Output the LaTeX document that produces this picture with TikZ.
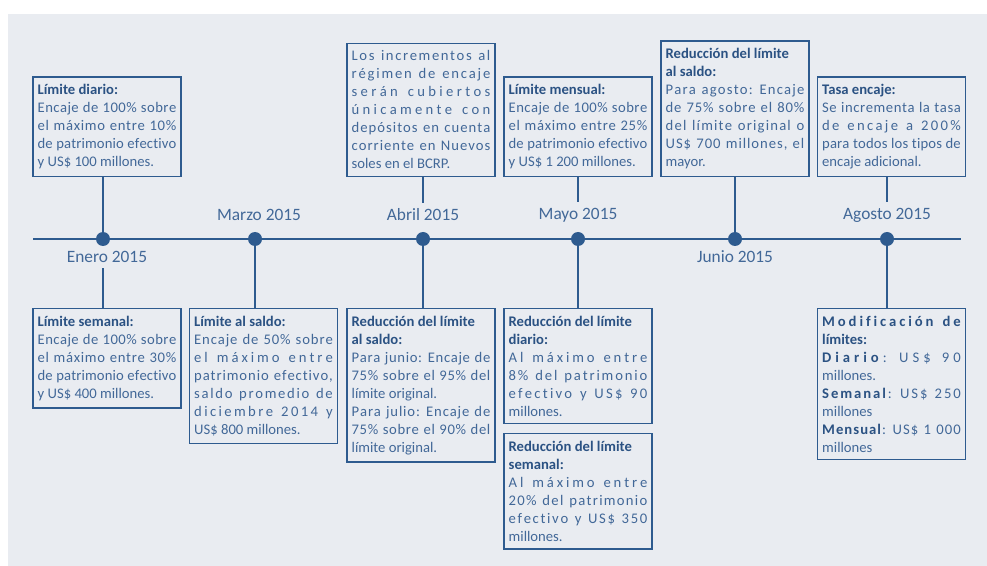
\documentclass[tikz,border=0pt]{standalone}
\usepackage{fontspec}
\setmainfont{Carlito}
\usetikzlibrary{backgrounds,positioning}

\definecolor{lineblue}{RGB}{46,91,143}
\definecolor{headblue}{RGB}{43,82,131}
\definecolor{textblue}{RGB}{66,104,152}
\definecolor{panel}{RGB}{233,236,241}

\setlength{\parindent}{0pt}
\hbadness=10000

\newcommand{\boxhead}[1]{{\bfseries\color{headblue}#1}}

% lineas espaciadas letra a letra hasta el ancho del cuadro
\ExplSyntaxOn
\seq_new:N \l__ls_words_seq
\cs_new_protected:Npn \__ls_spread:n #1
  {
    \seq_set_split:Nnn \l__ls_words_seq { ~ } { #1 }
    \seq_map_indexed_inline:Nn \l__ls_words_seq
      {
        \int_compare:nNnT { ##1 } > { 1 } { \c_space_tl \hfil }
        \tl_map_inline:nn { ##2 } { ####1 \hfil }
      }
  }
\NewDocumentCommand \ls { m }
  { \mode_leave_vertical: \hbox_to_wd:nn { \hsize } { \__ls_spread:n { #1 } \unskip } }
\NewDocumentCommand \lsb { m m }
  {
    \mode_leave_vertical:
    \hbox_to_wd:nn { \hsize }
      { { \bfseries \color { headblue } \__ls_spread:n { #1 } } \__ls_spread:n { #2 } \unskip }
  }
\ExplSyntaxOff

\begin{document}
\begin{tikzpicture}
	[x=0.75pt,y=-0.75pt,
	 dot/.style={circle,fill=lineblue,minimum size=10.5pt,inner sep=0pt},
	 month/.style={font=\fontsize{13}{15}\selectfont,text=textblue,inner sep=4pt},
	 box/.style={draw=lineblue,line width=0.9pt,text width=104pt,align=justify,inner xsep=3.5pt,inner ysep=5.5pt,text=textblue,
		font=\fontsize{11}{13.5}\selectfont},
	 link/.style={draw=lineblue,line width=1.1pt}]

	\useasboundingbox (0,0) rectangle (987,566);

	% fechas sobre la linea de tiempo
	\node[dot] (p0) at (103,239) {};
	\node[dot] (p1) at (255,239) {};
	\node[dot] (p2) at (423,239) {};
	\node[dot] (p3) at (578,239) {};
	\node[dot] (p4) at (735,239) {};
	\node[dot] (p5) at (887,239) {};

	\node[month] (m0) at (107,257) {Enero 2015};
	\node[month] (m1) at (259,215) {Marzo 2015};
	\node[month] (m2) at (423,215) {Abril 2015};
	\node[month] (m3) at (578,215) {Mayo 2015};
	\node[month] (m4) at (735,257) {Junio 2015};
	\node[month] (m5) at (887,215) {Agosto 2015};

	% cuadros de arriba
	\node[box,anchor=south] (u0) at (107,177) {\boxhead{Límite diario:}\\
		\ls{Encaje de 100\% sobre}\\ \ls{el máximo entre 10\%}\\ \ls{de patrimonio efectivo}\\ y US\$ 100 millones.};
	\node[box,anchor=south] (u2) at (421,177) {\ls{Los incrementos al}\\ \ls{régimen de encaje}\\
		\ls{serán cubiertos}\\ \ls{únicamente con}\\ \ls{depósitos en cuenta}\\ \ls{corriente en Nuevos}\\ soles en el BCRP.};
	\node[box,anchor=south] (u3) at (578,177) {\boxhead{Límite mensual:}\\
		\ls{Encaje de 100\% sobre}\\ \ls{el máximo entre 25\%}\\ \ls{de patrimonio efectivo}\\ y US\$ 1 200 millones.};
	\node[box,anchor=south] (u4) at (735,177) {\boxhead{Reducción del límite\\ al saldo:}\\
		\ls{Para agosto: Encaje}\\ \ls{de 75\% sobre el 80\%}\\ \ls{del límite original o}\\ \ls{US\$ 700 millones, el}\\ mayor.};
	\node[box,anchor=south] (u5) at (891.5,177) {\boxhead{Tasa encaje:}\\
		\ls{Se incrementa la tasa}\\ \ls{de encaje a 200\%}\\ \ls{para todos los tipos de}\\ encaje adicional.};

	% cuadros de abajo
	\node[box,anchor=north] (l0) at (107,308) {\boxhead{Límite semanal:}\\
		\ls{Encaje de 100\% sobre}\\ \ls{el máximo entre 30\%}\\ \ls{de patrimonio efectivo}\\ y US\$ 400 millones.};
	\node[box,anchor=north] (l1) at (263.5,308) {\boxhead{Límite al saldo:}\\
		\ls{Encaje de 50\% sobre}\\ \ls{el máximo entre}\\ \ls{patrimonio efectivo,}\\ \ls{saldo promedio de}\\ \ls{diciembre 2014 y}\\ US\$ 800 millones.};
	\node[box,anchor=north] (l2) at (421,308) {\boxhead{Reducción del límite\\ al saldo:}\\
		\ls{Para junio: Encaje de}\\ \ls{75\% sobre el 95\% del}\\ límite original.\\
		\ls{Para julio: Encaje de}\\ \ls{75\% sobre el 90\% del}\\ límite original.};
	\node[box,anchor=north] (l3) at (578,308) {\boxhead{Reducción del límite\\ diario:}\\
		\ls{Al máximo entre}\\ \ls{8\% del patrimonio}\\ \ls{efectivo y US\$ 90}\\ millones.};
	\node[box,below=6.75pt of l3] (l3b) {\boxhead{Reducción del límite\\ semanal:}\\
		\ls{Al máximo entre}\\ \ls{20\% del patrimonio}\\ \ls{efectivo y US\$ 350}\\ millones.};
	\node[box,anchor=north] (l5) at (891.5,308) {{\bfseries\color{headblue}\ls{Modificación de}}\\ \boxhead{límites:}\\
		\lsb{Diario}{: US\$ 90}\\ millones.\\
		\lsb{Semanal}{: US\$ 250}\\ millones\\
		\lsb{Mensual}{: US\$ 1 000}\\ millones};

	\coordinate (start) at (33,239);
	\coordinate (end) at (961,239);

	\begin{pgfonlayer}{background}
		\fill[panel] (8,14) rectangle (987,566);
		\draw[lineblue,line width=2.2pt] (start) -- (end);
		\draw[link] (u0.south -| p0) -- (p0);
		\draw[link] (m0.south -| p0) -- (l0.north -| p0);
		\draw[link] (p1) -- (l1.north -| p1);
		\draw[link] (u2.south -| p2) -- (m2.north);
		\draw[link] (p2) -- (l2.north -| p2);
		\draw[link] (u3.south -| p3) -- (m3.north);
		\draw[link] (p3) -- (l3.north -| p3);
		\draw[link] (u4.south -| p4) -- (p4);
		\draw[link] (u5.south -| p5) -- (m5.north);
		\draw[link] (p5) -- (l5.north -| p5);
	\end{pgfonlayer}

\end{tikzpicture}
\end{document}
